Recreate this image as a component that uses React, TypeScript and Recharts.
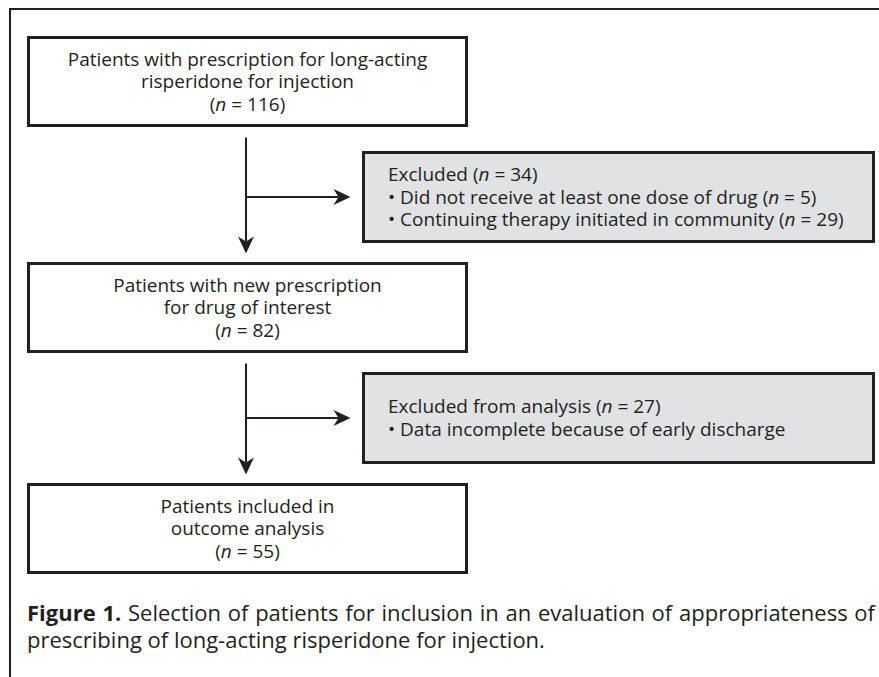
import React from "react";
import {
  ReferenceArea,
  ReferenceLine,
  Scatter,
  ScatterChart,
  XAxis,
  YAxis,
} from "recharts";

// Flow of patients through the evaluation
const stageLines = [
  ["Patients with prescription for long-acting", "risperidone for injection"],
  ["Patients with new prescription", "for drug of interest"],
  ["Patients included in", "outcome analysis"],
];
const stageCounts = [116, 82, 55];

const exclusionTitles = ["Excluded", "Excluded from analysis"];
const exclusionCounts = [34, 27];
const exclusionReasons = [
  ["Did not receive at least one dose of drug", "Continuing therapy initiated in community"],
  ["Data incomplete because of early discharge"],
];
const reasonCounts: (number | null)[][] = [[5, 29], [null]];

const captionLabel = "Figure 1.";
const captionLines = [
  "Selection of patients for inclusion in an evaluation of appropriateness of",
  "prescribing of long-acting risperidone for injection.",
];

const W = 879;
const H = 677;
const INK = "#231f20";
const GREY = "#e1e2e4";
const FONT = '"Open Sans", "Noto Sans", sans-serif';
const BOX_FONT = 19;
const CAP_FONT = 22;
const LINE_H = 22.5;

// layout, in page pixels (chart has no margins so data units == pixels)
const mainX = [28.5, 466.5];
const sideX = [363.5, 873.5];
const stageY = [
  [37.5, 125.5],
  [263.5, 351.5],
  [484.5, 572.5],
];
const exclY = [
  [152.5, 241.5],
  [373.5, 462.5],
];
const trunkX = 246;
const captionBox = { x1: 27, x2: 875, y1: 600, y2: 660 };

let ctx: CanvasRenderingContext2D | null = null;
function textWidth(text: string, font: string) {
  if (!ctx) ctx = document.createElement("canvas").getContext("2d");
  if (!ctx) return text.length * 9;
  ctx.font = font;
  return ctx.measureText(text).width;
}

const nCount = (count: number) => (
  <>
    {"("}
    <tspan fontStyle="italic">n</tspan>
    {` = ${count})`}
  </>
);

const stageLabel = (i: number) => (props: any) => {
  const { x, y, width, height } = props.viewBox;
  const cx = x + width / 2;
  const rows = stageLines[i].length + 1;
  const top = y + height / 2 - ((rows - 1) * LINE_H) / 2 + 6.5;
  return (
    <text textAnchor="middle" fontFamily={FONT} fontSize={BOX_FONT} fill={INK}>
      {stageLines[i].map((l, k) => (
        <tspan key={k} x={cx} y={top + k * LINE_H}>
          {l}
        </tspan>
      ))}
      <tspan x={cx} y={top + stageLines[i].length * LINE_H}>
        {nCount(stageCounts[i])}
      </tspan>
    </text>
  );
};

const exclusionLabel = (i: number) => (props: any) => {
  const { x, y, height } = props.viewBox;
  const left = x + 24.5;
  const rows = exclusionReasons[i].length + 1;
  const top = y + height / 2 - ((rows - 1) * LINE_H) / 2 + 6.5;
  return (
    <text fontFamily={FONT} fontSize={BOX_FONT} fill={INK}>
      <tspan x={left} y={top}>
        {`${exclusionTitles[i]} `}
        {nCount(exclusionCounts[i])}
      </tspan>
      {exclusionReasons[i].map((r, k) => {
        const c = reasonCounts[i][k];
        return (
          <tspan key={k} x={left} y={top + (k + 1) * LINE_H}>
            {`• ${r}`}
            {c != null ? <> {nCount(c)}</> : null}
          </tspan>
        );
      })}
    </text>
  );
};

// caption: first line justified to the full column width
const captionContent = (props: any) => {
  const { x, y, width } = props.viewBox;
  const bold = `bold ${CAP_FONT}px ${FONT}`;
  const reg = `${CAP_FONT}px ${FONT}`;
  const first = ` ${captionLines[0]}`;
  const natural = textWidth(captionLabel, bold) + textWidth(first, reg);
  const spaces = (captionLabel + first).split(" ").length - 1;
  const ws = (width - natural) / spaces;
  return (
    <g fontFamily={FONT} fontSize={CAP_FONT} fill={INK}>
      <text x={x} y={y + 21} style={{ wordSpacing: `${ws}px` }}>
        <tspan fontWeight="bold">{captionLabel}</tspan>
        {first}
      </text>
      <text x={x} y={y + 48}>
        {captionLines[1]}
      </text>
    </g>
  );
};

const arrowShape = (props: any) => {
  const { x1, y1, x2, y2 } = props;
  const len = Math.hypot(x2 - x1, y2 - y1);
  const ux = (x2 - x1) / len;
  const uy = (y2 - y1) / len;
  const px = -uy;
  const py = ux;
  const head = 17;
  const half = 8;
  const notch = 12;
  const pt = (a: number, b: number) => `${x2 - ux * a + px * b},${y2 - uy * a + py * b}`;
  return (
    <g>
      <line
        x1={x1}
        y1={y1}
        x2={x2 - ux * notch}
        y2={y2 - uy * notch}
        stroke={INK}
        strokeWidth={2}
      />
      <polygon
        points={[pt(0, 0), pt(head, half), pt(notch, 0), pt(head, -half)].join(" ")}
        fill={INK}
      />
    </g>
  );
};

export default function App() {
  return (
    <div style={{ position: "absolute", left: 0, top: 0, background: "#fff" }}>
      <ScatterChart width={W} height={H} margin={{ top: 0, right: 0, bottom: 0, left: 0 }}>
        <XAxis type="number" dataKey="x" domain={[0, W]} hide allowDataOverflow />
        <YAxis type="number" dataKey="y" domain={[0, H]} reversed hide allowDataOverflow />
        <Scatter data={[]} isAnimationActive={false} />

        {/* frame */}
        <ReferenceLine
          segment={[{ x: 10, y: 8 }, { x: 10, y: H }]}
          stroke={INK}
          strokeWidth={2}
        />
        <ReferenceLine
          segment={[{ x: 9, y: 9 }, { x: W, y: 9 }]}
          stroke={INK}
          strokeWidth={2}
        />

        {stageCounts.map((_, i) => (
          <ReferenceArea
            key={`s${i}`}
            x1={mainX[0]}
            x2={mainX[1]}
            y1={stageY[i][0]}
            y2={stageY[i][1]}
            fill="#fff"
            fillOpacity={1}
            stroke={INK}
            strokeWidth={3}
            label={stageLabel(i)}
          />
        ))}

        {exclusionCounts.map((_, i) => (
          <ReferenceArea
            key={`e${i}`}
            x1={sideX[0]}
            x2={sideX[1]}
            y1={exclY[i][0]}
            y2={exclY[i][1]}
            fill={GREY}
            fillOpacity={1}
            stroke={INK}
            strokeWidth={3}
            label={exclusionLabel(i)}
          />
        ))}

        {/* arrows: trunk down to next stage, branch across to exclusion */}
        {exclusionCounts.map((_, i) => {
          const branchY = (exclY[i][0] + exclY[i][1]) / 2;
          return (
            <React.Fragment key={`a${i}`}>
              <ReferenceLine
                segment={[
                  { x: trunkX, y: stageY[i][1] + 12 },
                  { x: trunkX, y: stageY[i + 1][0] - 10 },
                ]}
                shape={arrowShape}
              />
              <ReferenceLine
                segment={[
                  { x: trunkX, y: branchY },
                  { x: sideX[0] - 13, y: branchY },
                ]}
                shape={arrowShape}
              />
            </React.Fragment>
          );
        })}

        <ReferenceArea
          x1={captionBox.x1}
          x2={captionBox.x2}
          y1={captionBox.y1}
          y2={captionBox.y2}
          fill="none"
          stroke="none"
          label={captionContent}
        />
      </ScatterChart>
    </div>
  );
}
